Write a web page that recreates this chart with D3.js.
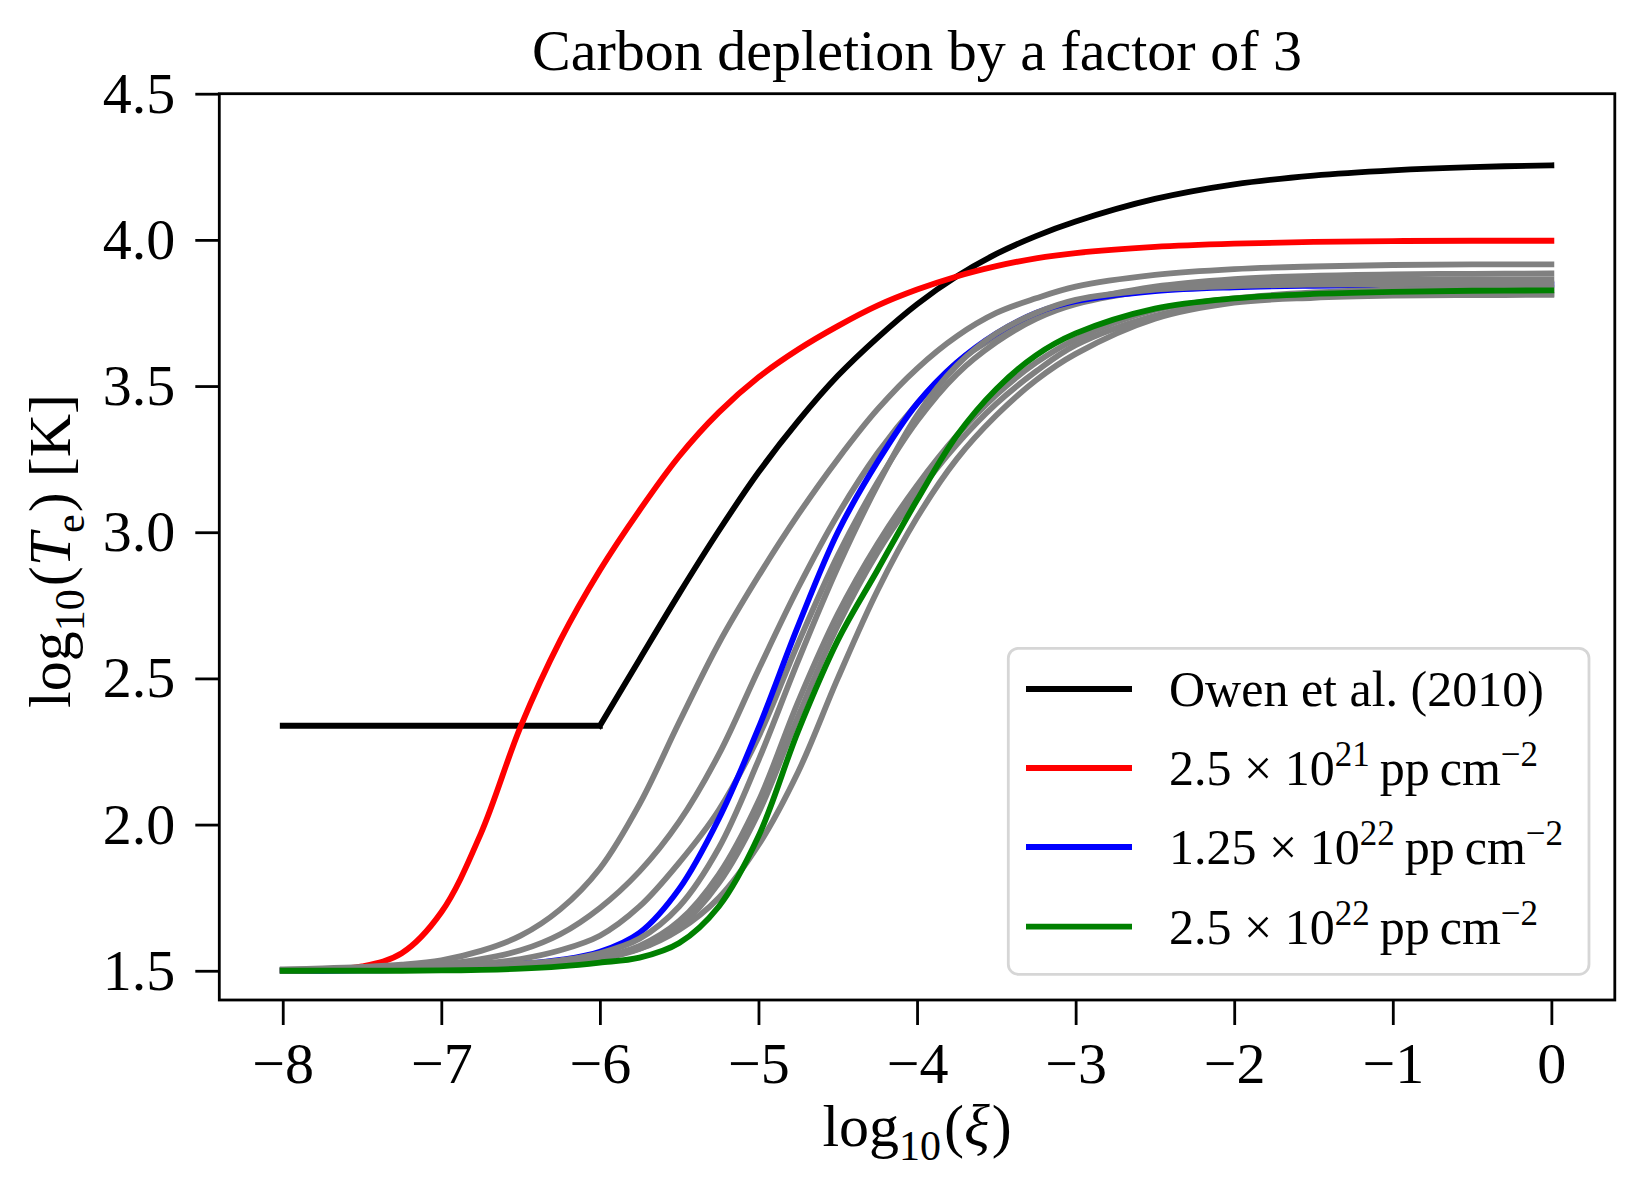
<!DOCTYPE html>
<html>
<head>
<meta charset="utf-8">
<script src="https://cdn.jsdelivr.net/npm/d3@7/dist/d3.min.js"></script>
<style>
  html, body { margin: 0; padding: 0; background: #ffffff; }
  svg { display: block; }
  text { font-family: "Liberation Serif", "DejaVu Serif", serif; fill: #000; }
</style>
</head>
<body>
<svg id="chart" width="1644" height="1197"></svg>
<script>
// ---------------- data ----------------
const titleText = "Carbon depletion by a factor of 3";
const xGrid = [-8, -7.75, -7.5, -7.25, -7, -6.75, -6.5, -6.25, -6, -5.75, -5.5, -5.25, -5, -4.75, -4.5, -4.25, -4, -3.75, -3.5, -3.25, -3, -2.5, -2, -1.5, -1, -0.5, 0];
const xTicks = [-8, -7, -6, -5, -4, -3, -2, -1, 0];
const yTicks = [1.5, 2.0, 2.5, 3.0, 3.5, 4.0, 4.5];

const owen   = [2.338, 2.338, 2.338, 2.338, 2.338, 2.338, 2.338, 2.338, 2.338, 2.565, 2.79, 3.005, 3.205, 3.38, 3.535, 3.665, 3.78, 3.875, 3.952, 4.013, 4.063, 4.14, 4.19, 4.22, 4.238, 4.249, 4.255];
const red    = [1.500, 1.503, 1.515, 1.56, 1.70, 1.97, 2.335, 2.63, 2.87, 3.075, 3.26, 3.41, 3.53, 3.625, 3.705, 3.775, 3.83, 3.875, 3.91, 3.937, 3.955, 3.976, 3.987, 3.993, 3.996, 3.997, 3.997];
const gray1  = [1.505, 1.508, 1.513, 1.521, 1.536, 1.568, 1.62, 1.71, 1.85, 2.07, 2.35, 2.62, 2.85, 3.06, 3.25, 3.42, 3.56, 3.67, 3.75, 3.80, 3.84, 3.88, 3.90, 3.909, 3.914, 3.916, 3.916];
const gray2  = [1.503, 1.505, 1.508, 1.513, 1.522, 1.54, 1.57, 1.625, 1.715, 1.84, 2.01, 2.24, 2.53, 2.81, 3.06, 3.27, 3.44, 3.58, 3.67, 3.735, 3.785, 3.84, 3.866, 3.877, 3.882, 3.884, 3.885];
const gray3  = [1.502, 1.504, 1.506, 1.51, 1.515, 1.524, 1.54, 1.57, 1.62, 1.72, 1.87, 2.05, 2.30, 2.62, 2.92, 3.17, 3.38, 3.54, 3.65, 3.73, 3.78, 3.83, 3.852, 3.861, 3.864, 3.865, 3.865];
const blue   = [1.500, 1.500, 1.501, 1.503, 1.507, 1.514, 1.523, 1.537, 1.565, 1.63, 1.78, 2.02, 2.33, 2.68, 3.00, 3.24, 3.44, 3.58, 3.68, 3.75, 3.79, 3.825, 3.838, 3.843, 3.845, 3.846, 3.846];
const gray4  = [1.501, 1.502, 1.503, 1.505, 1.508, 1.513, 1.52, 1.535, 1.56, 1.61, 1.72, 1.92, 2.22, 2.56, 2.88, 3.16, 3.40, 3.57, 3.68, 3.75, 3.795, 3.83, 3.842, 3.847, 3.849, 3.85, 3.85];
const gray5  = [1.501, 1.502, 1.503, 1.505, 1.507, 1.511, 1.516, 1.527, 1.545, 1.585, 1.67, 1.83, 2.08, 2.42, 2.72, 2.96, 3.16, 3.33, 3.47, 3.58, 3.66, 3.76, 3.80, 3.82, 3.83, 3.834, 3.835];
const gray6  = [1.501, 1.502, 1.503, 1.504, 1.506, 1.51, 1.514, 1.524, 1.54, 1.575, 1.65, 1.80, 2.04, 2.37, 2.68, 2.93, 3.13, 3.30, 3.44, 3.55, 3.64, 3.74, 3.79, 3.806, 3.812, 3.814, 3.815];
const gray7  = [1.502, 1.503, 1.505, 1.508, 1.512, 1.517, 1.524, 1.535, 1.55, 1.575, 1.64, 1.75, 1.93, 2.18, 2.50, 2.80, 3.05, 3.25, 3.40, 3.52, 3.61, 3.73, 3.785, 3.802, 3.809, 3.811, 3.812];
const green  = [1.500, 1.500, 1.500, 1.500, 1.501, 1.503, 1.507, 1.515, 1.528, 1.545, 1.595, 1.72, 1.96, 2.32, 2.63, 2.87, 3.11, 3.33, 3.49, 3.605, 3.68, 3.765, 3.80, 3.815, 3.822, 3.826, 3.827];

const legendLabels = ["Owen et al. (2010)", "2.5|21", "1.25|22", "2.5|22"];
const legendColors = ["#000000", "#ff0000", "#0000ff", "#008000"];

// ---------------- layout ----------------
const svg = d3.select("#chart");
svg.append("rect").attr("width", 1644).attr("height", 1197).attr("fill", "#ffffff");

const L = 219.3, R = 1614.8, T = 93.7, B = 1000;
const x = d3.scaleLinear().domain([-8.4, 0.4]).range([L, R]);
const y = d3.scaleLinear().domain([1.4, 4.5]).range([B, T]);

const TICK_FS = 58, LW = 5.8;

svg.append("defs").append("clipPath").attr("id", "clip")
  .append("rect").attr("x", L).attr("y", T).attr("width", R - L).attr("height", B - T);

const plot = svg.append("g").attr("clip-path", "url(#clip)");

const lineSmooth = d3.line().x(d => x(d[0])).y(d => y(d[1])).curve(d3.curveCatmullRom.alpha(0.5));
const lineLin = d3.line().x(d => x(d[0])).y(d => y(d[1]));

function pts(vals) { return xGrid.map((xv, i) => [xv, vals[i]]); }

function drawSeries(vals, color, kinkIndex) {
  const p = pts(vals);
  let d;
  if (kinkIndex != null) {
    d = lineLin(p.slice(0, kinkIndex + 1)) + lineSmooth(p.slice(kinkIndex));
  } else {
    d = lineSmooth(p);
  }
  plot.append("path").attr("d", d).attr("fill", "none")
    .attr("stroke", color).attr("stroke-width", LW)
    .attr("stroke-linecap", "square").attr("stroke-linejoin", "round");
}

drawSeries(owen, "#000000", 8);
drawSeries(red, "#ff0000");
drawSeries(gray1, "#808080");
drawSeries(gray2, "#808080");
drawSeries(gray3, "#808080");
drawSeries(blue, "#0000ff");
drawSeries(gray4, "#808080");
drawSeries(gray5, "#808080");
drawSeries(gray6, "#808080");
drawSeries(gray7, "#808080");
drawSeries(green, "#008000");

// ---------------- axes ----------------
const fmtY = d => d.toFixed(1);
const fmtX = d => (d < 0 ? "\u2212" + Math.abs(d) : String(d));

const gx = svg.append("g").attr("transform", `translate(0,${B})`)
  .call(d3.axisBottom(x).tickValues(xTicks).tickFormat(fmtX).tickSize(25).tickSizeOuter(0).tickPadding(17));
const gy = svg.append("g").attr("transform", `translate(${L},0)`)
  .call(d3.axisLeft(y).tickValues(yTicks).tickFormat(fmtY).tickSize(24).tickSizeOuter(0).tickPadding(20));

[gx, gy].forEach(g => {
  g.select(".domain").remove();
  g.selectAll(".tick line").attr("stroke", "#000").attr("stroke-width", 2.8);
  g.selectAll(".tick text").attr("font-family", "Liberation Serif, DejaVu Serif, serif")
    .attr("font-size", TICK_FS).attr("fill", "#000");
});

svg.append("rect").attr("x", L).attr("y", T).attr("width", R - L).attr("height", B - T)
  .attr("fill", "none").attr("stroke", "#000").attr("stroke-width", 2.8);

// ---------------- title & labels ----------------
svg.append("text").attr("x", (L + R) / 2).attr("y", 70).attr("text-anchor", "middle")
  .attr("font-size", 58).text(titleText);

const LAB_FS = 60;
const xl = svg.append("text").attr("x", (L + R) / 2).attr("y", 1146).attr("text-anchor", "middle")
  .attr("font-size", LAB_FS);
xl.append("tspan").text("log");
xl.append("tspan").attr("font-size", LAB_FS * 0.7).attr("dy", 14).text("10");
xl.append("tspan").attr("dy", -14).attr("dx", 3).text("(");
xl.append("tspan").attr("font-style", "italic").text("\u03BE");
xl.append("tspan").attr("dx", 2).text(")");

const yl = svg.append("text").attr("transform", `translate(70,551) rotate(-90)`)
  .attr("text-anchor", "middle").attr("font-size", LAB_FS);
yl.append("tspan").text("log");
yl.append("tspan").attr("font-size", LAB_FS * 0.7).attr("dy", 14).text("10");
yl.append("tspan").attr("dy", -14).attr("dx", 3).text("(");
yl.append("tspan").attr("font-style", "italic").text("T");
yl.append("tspan").attr("font-size", LAB_FS * 0.7).attr("dy", 14).text("e");
yl.append("tspan").attr("dy", -14).attr("dx", 2).text(") [K]");

// ---------------- legend ----------------
const lg = svg.append("g");
lg.append("rect").attr("x", 1008.3).attr("y", 648.3).attr("width", 1589 - 1008.3).attr("height", 974.3 - 648.3)
  .attr("rx", 10).attr("ry", 10).attr("fill", "#ffffff").attr("fill-opacity", 0.8)
  .attr("stroke", "#d6d6d6").attr("stroke-width", 2.8);

const LEG_FS = 50;
const rowY = [689, 768, 847, 926.7];
legendLabels.forEach((lab, i) => {
  lg.append("line").attr("x1", 1026).attr("x2", 1132).attr("y1", rowY[i]).attr("y2", rowY[i])
    .attr("stroke", legendColors[i]).attr("stroke-width", LW);
  const t = lg.append("text").attr("x", 1169).attr("y", rowY[i] + 17).attr("font-size", LEG_FS);
  if (i === 0) {
    t.text(lab);
  } else {
    const [mant, exp] = lab.split("|");
    t.append("tspan").text(mant + " \u00D7 10");
    t.append("tspan").attr("font-size", LEG_FS * 0.7).attr("dy", -18.7).text(exp);
    t.append("tspan").attr("dy", 18.7).text("\u2009pp\u2009cm");
    t.append("tspan").attr("font-size", LEG_FS * 0.7).attr("dy", -18.7).text("\u2212" + "2");
  }
});
</script>
</body>
</html>
